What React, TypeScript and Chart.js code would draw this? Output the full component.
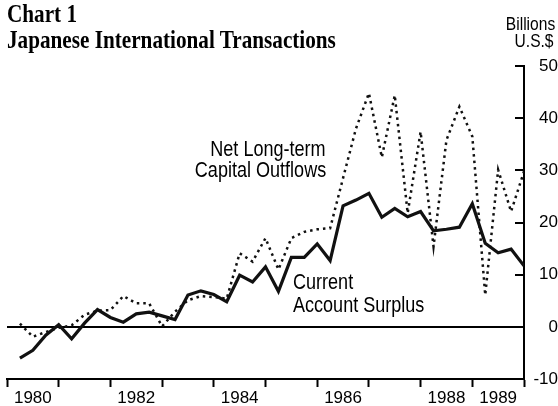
import React, { useEffect, useRef } from 'react';
import { Chart, registerables } from 'chart.js';

Chart.register(...registerables);

// ---- Data (quarterly, Q1 1980 .. Q4 1989, billions of U.S.$) ----
const years = [1980, 1981, 1982, 1983, 1984, 1985, 1986, 1987, 1988, 1989];
const yearLabels = ['1980', '1982', '1984', '1986', '1988', '1989'];
const quartersPerYear = 4;

const currentAccountSurplus = [
  -6.0, -4.5, -1.6, 0.4,
  -2.3, 0.7, 3.3, 1.8,
  0.9, 2.5, 2.8, 2.1,
  1.4, 6.1, 6.9, 6.2,
  4.8, 9.9, 8.6, 11.5,
  6.8, 13.3, 13.3, 15.9,
  12.7, 23.2, 24.3, 25.6,
  21.0, 22.7, 21.1, 22.1,
  18.4, 18.7, 19.1, 23.6,
  16.0, 14.2, 14.9, 11.7,
];

const netLongTermCapitalOutflows = [
  0.6, -1.9, -1.0, -0.2,
  0.3, 2.3, 3.1, 3.2,
  5.9, 4.5, 4.5, 0.1,
  2.9, 5.1, 5.9, 5.7,
  5.4, 14.1, 12.5, 17.0,
  11.0, 17.0, 18.2, 18.7,
  18.9, 28.5, 38.0, 44.8,
  32.5, 44.4, 21.8, 37.4,
  15.4, 35.8, 42.2, 36.5,
  6.1, 30.1, 22.1, 29.8,
];

const yMin = -10;
const yMax = 50;
const yStep = 10;

const SANS = "'Liberation Sans', Arial, Helvetica, sans-serif";
const SERIF = "'Liberation Serif', 'Times New Roman', Times, serif";
const CONDENSE = 0.82;

const inwardTicks = {
  id: 'inwardTicks',
  afterDraw(chart: any) {
    const ys = chart.scales.y;
    const ctx = chart.ctx;
    const right = chart.chartArea.right;
    ctx.save();
    ctx.strokeStyle = '#000';
    ctx.lineWidth = 2;
    ys.ticks.forEach((t: any) => {
      const py = Math.round(ys.getPixelForValue(t.value));
      ctx.beginPath();
      ctx.moveTo(right - 9, py);
      ctx.lineTo(right, py);
      ctx.stroke();
    });
    ctx.restore();
  },
};

export default function App() {
  const canvasRef = useRef<HTMLCanvasElement | null>(null);

  useEffect(() => {
    const canvas = canvasRef.current;
    if (!canvas) return;
    const toPoints = (arr: number[]) => arr.map((v, i) => ({ x: i + 1, y: v }));
    const nQ = years.length * quartersPerYear;

    const chart = new Chart(canvas, {
      type: 'line',
      data: {
        datasets: [
          {
            label: 'Net Long-term Capital Outflows',
            data: toPoints(netLongTermCapitalOutflows),
            borderColor: '#111',
            borderWidth: 2.5,
            borderDash: [2.5, 4],
            borderCapStyle: 'butt',
            pointRadius: 0,
            tension: 0,
            fill: false,
          },
          {
            label: 'Current Account Surplus',
            data: toPoints(currentAccountSurplus),
            borderColor: '#111',
            borderWidth: 3.2,
            borderJoinStyle: 'miter',
            pointRadius: 0,
            tension: 0,
            fill: false,
          },
        ],
      },
      options: {
        responsive: false,
        animation: false,
        devicePixelRatio: 1,
        layout: { padding: { left: 7, top: 66, right: 0, bottom: 0 } },
        plugins: {
          legend: { display: false },
          tooltip: { enabled: false },
          title: { display: false },
        },
        scales: {
          x: {
            type: 'linear',
            position: 'bottom',
            min: 0,
            max: nQ,
            afterBuildTicks: (scale: any) => {
              const t: any[] = [];
              for (let v = 0; v <= nQ; v += quartersPerYear / 2) t.push({ value: v });
              scale.ticks = t;
            },
            afterFit: (scale: any) => {
              scale.height = 27;
            },
            ticks: {
              autoSkip: false,
              maxRotation: 0,
              minRotation: 0,
              padding: 1,
              color: '#000',
              font: { family: SANS, size: 17 },
              callback: (value: any) => {
                const v = Number(value);
                if (v % quartersPerYear !== quartersPerYear / 2) return '';
                const yr = String(years[(v - quartersPerYear / 2) / quartersPerYear]);
                return yearLabels.includes(yr) ? yr : '';
              },
            },
            grid: {
              display: true,
              drawOnChartArea: false,
              drawTicks: true,
              tickLength: 8,
              tickWidth: 2,
              tickColor: (ctx: any) =>
                ctx.tick && ctx.tick.value % quartersPerYear === 0 ? '#000' : 'rgba(0,0,0,0)',
            },
            border: { display: true, color: '#000', width: 2 },
          },
          y: {
            type: 'linear',
            position: 'right',
            min: yMin,
            max: yMax,
            afterFit: (scale: any) => {
              scale.width = 34;
            },
            ticks: {
              stepSize: yStep,
              crossAlign: 'far',
              padding: 8,
              color: '#000',
              font: { family: SANS, size: 17 },
            },
            grid: {
              display: true,
              drawOnChartArea: true,
              drawTicks: false,
              lineWidth: 2,
              color: (ctx: any) => (ctx.tick && ctx.tick.value === 0 ? '#000' : 'rgba(0,0,0,0)'),
            },
            border: { display: true, color: '#000', width: 2 },
          },
        },
      },
      plugins: [inwardTicks],
    } as any);

    return () => chart.destroy();
  }, []);

  const sans = (size: number, origin: string): React.CSSProperties => ({
    position: 'absolute',
    fontFamily: SANS,
    fontSize: size,
    lineHeight: `${size}px`,
    whiteSpace: 'nowrap',
    color: '#000',
    transform: `scaleX(${CONDENSE})`,
    transformOrigin: origin,
  });
  const serif: React.CSSProperties = {
    position: 'absolute',
    left: 7,
    fontFamily: SERIF,
    fontWeight: 'bold',
    fontSize: 26,
    lineHeight: '26px',
    whiteSpace: 'nowrap',
    color: '#000',
    transform: 'scaleX(0.815)',
    transformOrigin: 'left top',
  };

  return (
    <div style={{ position: 'absolute', left: 0, top: 0, width: 558, height: 406, background: '#fff', overflow: 'hidden' }}>
      <canvas ref={canvasRef} width={558} height={406} style={{ position: 'absolute', left: 0, top: 0, width: 558, height: 406 }} />
      <div style={{ ...serif, top: 1.4 }}>Chart 1</div>
      <div style={{ ...serif, top: 27.2 }}>Japanese International Transactions</div>
      <div style={{ ...sans(19, 'right top'), right: 3, top: 14, textAlign: 'right' }}>Billions</div>
      <div style={{ ...sans(19, 'right top'), right: 4, top: 30.5, textAlign: 'right' }}>U.S.$</div>
      <div style={{ ...sans(22, 'right top'), right: 558 - 326, top: 137.5, textAlign: 'right' }}>Net Long-term</div>
      <div style={{ ...sans(22, 'right top'), right: 558 - 326, top: 159, textAlign: 'right' }}>Capital Outflows</div>
      <div style={{ ...sans(22, 'left top'), left: 293, top: 270.5 }}>Current</div>
      <div style={{ ...sans(22, 'left top'), left: 293, top: 294 }}>Account Surplus</div>
    </div>
  );
}
